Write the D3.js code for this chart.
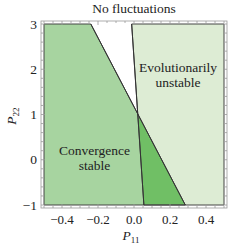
<!DOCTYPE html>
<html>
<head>
<meta charset="utf-8">
<script src="https://cdn.jsdelivr.net/npm/d3@7"></script>
<style>
  body { margin: 0; background: #fff; }
  svg text { font-family: "Liberation Serif", "Times New Roman", serif; fill: #222; }
</style>
</head>
<body>
<div id="chart"></div>
<script>
// values
const xTicks = [-0.4, -0.2, 0, 0.2, 0.4];
const yTicks = [-1, 0, 1, 2, 3];
const xDomain = [-0.5, 0.5];
const yDomain = [-1, 3];
// boundary lines as [P11, P22] end points
const csBoundary = [[-0.24, 3], [0.285, -1]];   // convergence stable left of this
const euBoundary = [[-0.013, 3], [0.055, -1]];  // evolutionarily unstable right of this
const regionColors = {cs: '#a7d4a0', eu: '#ddecd4', both: '#70bf65'};

const width = 249, height = 248;
const plot = {left: 44, right: 224, top: 24, bottom: 205};
const pad = 3;

const x = d3.scaleLinear().domain(xDomain).range([plot.left, plot.right]);
const y = d3.scaleLinear().domain(yDomain).range([plot.bottom, plot.top]);

const svg = d3.select('#chart').append('svg')
    .attr('width', width)
    .attr('height', height);

// intersection of the two boundaries
function lineAt(seg, py) {
  const [a, b] = seg;
  return a[0] + (py - a[1]) * (b[0] - a[0]) / (b[1] - a[1]);
}
function intersect(s1, s2) {
  const k1 = (s1[1][0] - s1[0][0]) / (s1[1][1] - s1[0][1]);
  const k2 = (s2[1][0] - s2[0][0]) / (s2[1][1] - s2[0][1]);
  const py = (s2[0][0] - s2[0][1] * k2 - s1[0][0] + s1[0][1] * k1) / (k1 - k2);
  return [lineAt(s1, py), py];
}
const cross = intersect(csBoundary, euBoundary);

const line = d3.line().x(d => x(d[0])).y(d => y(d[1]));
const closed = pts => line(pts) + 'Z';

const csPoly = [[xDomain[0], yDomain[1]], csBoundary[0], csBoundary[1], [xDomain[0], yDomain[0]]];
const euPoly = [euBoundary[0], [xDomain[1], yDomain[1]], [xDomain[1], yDomain[0]], euBoundary[1]];
const bothPoly = [cross, csBoundary[1], euBoundary[1]];

svg.append('path').attr('d', closed(csPoly)).attr('fill', regionColors.cs);
svg.append('path').attr('d', closed(euPoly)).attr('fill', regionColors.eu);
svg.append('path').attr('d', closed(bothPoly)).attr('fill', regionColors.both);

// outlines of the shaded regions
[csPoly, euPoly].forEach(p => {
  svg.append('path').attr('d', closed(p))
    .attr('fill', 'none').attr('stroke', '#444').attr('stroke-width', 1);
});
[csBoundary, euBoundary].forEach(s => {
  svg.append('path').attr('d', line(s))
    .attr('fill', 'none').attr('stroke', '#333').attr('stroke-width', 1);
});

// frame with inward ticks
const fx0 = plot.left - pad, fx1 = plot.right + pad;
const fy0 = plot.top - pad, fy1 = plot.bottom + pad;
const frame = svg.append('g').attr('stroke', '#999').attr('stroke-width', 0.8).attr('fill', 'none');
frame.append('rect')
  .attr('x', fx0).attr('y', fy0)
  .attr('width', fx1 - fx0).attr('height', fy1 - fy0);

const xMinor = d3.range(-0.5, 0.5001, 0.05);
const yMinor = d3.range(-1, 3.001, 0.2);
xMinor.forEach(v => {
  const major = xTicks.some(t => Math.abs(t - v) < 1e-6);
  const len = major ? 4 : 2;
  frame.append('line').attr('x1', x(v)).attr('x2', x(v)).attr('y1', fy1).attr('y2', fy1 - len);
  frame.append('line').attr('x1', x(v)).attr('x2', x(v)).attr('y1', fy0).attr('y2', fy0 + len);
});
yMinor.forEach(v => {
  const major = yTicks.some(t => Math.abs(t - v) < 1e-6);
  const len = major ? 4 : 2;
  frame.append('line').attr('y1', y(v)).attr('y2', y(v)).attr('x1', fx0).attr('x2', fx0 + len);
  frame.append('line').attr('y1', y(v)).attr('y2', y(v)).attr('x1', fx1).attr('x2', fx1 - len);
});

const fmt = v => (v < 0 ? '\u2212' : '') + Math.abs(v).toFixed(1);
svg.selectAll('.xt').data(xTicks).enter().append('text')
  .attr('class', 'xt')
  .attr('x', d => x(d)).attr('y', 224)
  .attr('text-anchor', 'middle')
  .style('font-size', '13px')
  .text(fmt);
svg.selectAll('.yt').data(yTicks).enter().append('text')
  .attr('class', 'yt')
  .attr('x', 37).attr('y', d => y(d) + 4.5)
  .attr('text-anchor', 'end')
  .style('font-size', '13.5px')
  .text(d => (d < 0 ? '\u2212' : '') + Math.abs(d));

// title
svg.append('text')
  .attr('x', 134).attr('y', 13)
  .attr('text-anchor', 'middle')
  .style('font-size', '13.5px')
  .text('No fluctuations');

// axis labels
const xl = svg.append('text')
  .attr('x', 131).attr('y', 240)
  .attr('text-anchor', 'middle')
  .style('font-size', '13.5px');
xl.append('tspan').style('font-style', 'italic').text('P');
xl.append('tspan').attr('dy', 2.5).style('font-size', '9px').text('11');

const yl = svg.append('text')
  .attr('transform', 'translate(16,116) rotate(-90)')
  .attr('text-anchor', 'middle')
  .style('font-size', '13.5px');
yl.append('tspan').style('font-style', 'italic').text('P');
yl.append('tspan').attr('dy', 3).style('font-size', '9px').text('22');

// region labels
const labels = [
  {lines: ['Evolutionarily', 'unstable'], px: 0.245, py: 1.93},
  {lines: ['Convergence', 'stable'], px: -0.22, py: 0.1}
];
labels.forEach(l => {
  l.lines.forEach((t, i) => {
    svg.append('text')
      .attr('x', x(l.px)).attr('y', y(l.py) + i * 14.5)
      .attr('text-anchor', 'middle')
      .style('font-size', '13.5px')
      .text(t);
  });
});
</script>
</body>
</html>
